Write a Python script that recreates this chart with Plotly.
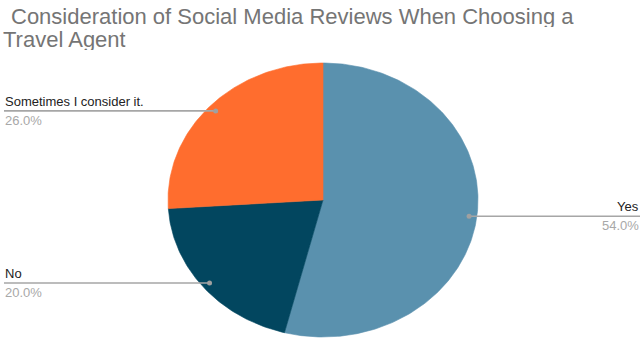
import numpy as np
import plotly.graph_objects as go

# Survey answers and their shares (percent)
labels = ["Yes", "No", "Sometimes I consider it."]
values = [54.0, 20.0, 26.0]
colors = ["#5A91AE", "#02465F", "#FF6D2E"]

title_lines = ["Consideration of Social Media Reviews When Choosing a", "Travel Agent"]

W, H = 642, 338
# Ellipse geometry in pixel units of the canvas
CX, CY = 323.0, 200.0
RX, RY = 155.0, 137.0
DOT_R = 0.95  # radial fraction where each leader line starts

fig = go.Figure()

total = sum(values)
fracs = np.array(values) / total
starts = np.concatenate([[0.0], np.cumsum(fracs)[:-1]])


def ellipse_pt(t, f=1.0):
    # t in turns, clockwise from 12 o'clock
    a = 2 * np.pi * t
    return CX + RX * f * np.sin(a), CY - RY * f * np.cos(a)


# Slices
for lab, fr, st, col in zip(labels, fracs, starts, colors):
    ts = np.linspace(st, st + fr, max(int(fr * 400), 8))
    xs, ys = ellipse_pt(ts)
    xs = np.concatenate([[CX], xs, [CX]])
    ys = np.concatenate([[CY], ys, [CY]])
    fig.add_trace(go.Scatter(x=xs, y=ys, fill="toself", fillcolor=col,
                             line=dict(width=0.6, color=col), mode="lines",
                             hoverinfo="text", text=lab, showlegend=False))

# Leader lines, dots and labels
for lab, val, fr, st in zip(labels, values, fracs, starts):
    mid = st + fr / 2
    dx, dy = ellipse_pt(mid, DOT_R)
    right = dx > CX
    x_end = 640 if right else 4
    fig.add_trace(go.Scatter(x=[dx, x_end], y=[dy, dy], mode="lines",
                             line=dict(color="#A6A6A6", width=1.6),
                             hoverinfo="skip", showlegend=False))
    fig.add_trace(go.Scatter(x=[dx], y=[dy], mode="markers",
                             marker=dict(color="#A0A0A0", size=5),
                             hoverinfo="skip", showlegend=False))
    xa = "right" if right else "left"
    tx = 640 if right else 4
    fig.add_annotation(x=tx, y=dy - 1, xref="x", yref="y", text=lab,
                       showarrow=False, xanchor=xa, yanchor="bottom",
                       font=dict(family="Liberation Sans, Arial", size=13, color="#222222"),
                       borderpad=0)
    fig.add_annotation(x=tx, y=dy + 1, xref="x", yref="y", text=f"{val:.1f}%",
                       showarrow=False, xanchor=xa, yanchor="top",
                       font=dict(family="Liberation Sans, Arial", size=13, color="#A8A8A8"),
                       borderpad=0)

# Title, two lines with tight spacing (fixed-height boxes so they stack)
for i, line in enumerate(title_lines):
    fig.add_annotation(x=10 if i == 0 else 2, y=28.5 if i == 0 else 50.5, xref="x", yref="y",
                       text=line, showarrow=False, xanchor="left", yanchor="bottom",
                       height=22, valign="middle",
                       font=dict(family="Liberation Sans, Arial", size=22, color="#757575"),
                       borderpad=0)

fig.update_layout(
    width=W, height=H,
    margin=dict(l=0, r=0, t=0, b=0),
    paper_bgcolor="white", plot_bgcolor="white",
    xaxis=dict(range=[0, W], visible=False, fixedrange=True),
    yaxis=dict(range=[H, 0], visible=False, fixedrange=True),
    showlegend=False,
)

fig.write_html("out.html", config={"displayModeBar": False})
